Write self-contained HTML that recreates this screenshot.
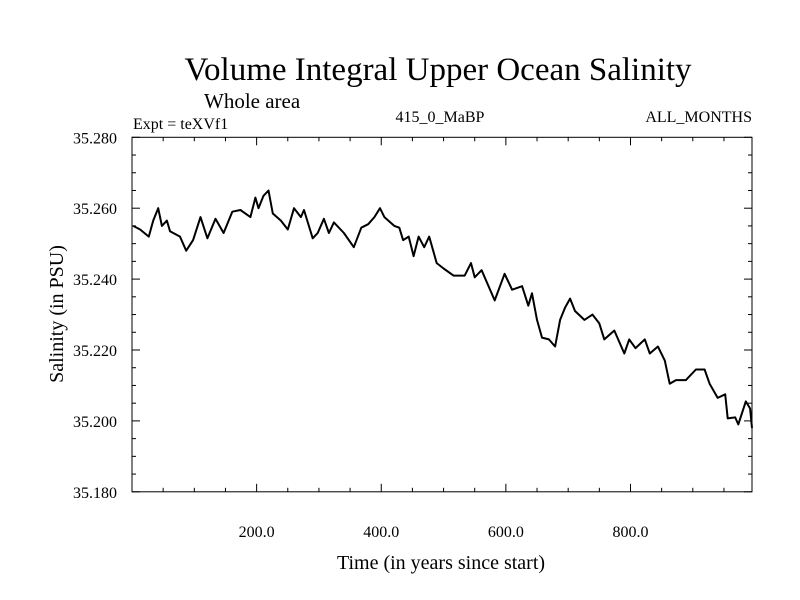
<!DOCTYPE html>
<html><head><meta charset="utf-8"><style>
html,body{margin:0;padding:0;background:#fff;}
svg{display:block;font-family:"Liberation Serif",serif;}
</style></head><body>
<svg id="chart" width="800" height="600" viewBox="0 0 800 600">
<text x="438" y="80" font-size="33" text-anchor="middle">Volume Integral Upper Ocean Salinity</text>
<text x="204" y="108" font-size="21">Whole area</text>
<text x="133" y="129" font-size="16">Expt = teXVf1</text>
<text x="440" y="122" font-size="16" text-anchor="middle">415_0_MaBP</text>
<text x="752" y="122" font-size="16" text-anchor="end">ALL_MONTHS</text>
<text x="441" y="569" font-size="20" text-anchor="middle">Time (in years since start)</text>
<text x="0" y="0" font-size="20" text-anchor="middle" transform="translate(63,314) rotate(-90)">Salinity (in PSU)</text>
<g id="axes"></g>
<path id="series" fill="none" stroke="#000" stroke-width="2" stroke-linejoin="round"></path>
</svg>
<script>
const years = [2,13,27,34,42,48,56,61,77,87,98,110,121,134,147,161,174,190,198,203,211,219,226,239,250,260,271,276,290,298,308,316,324,340,356,368,379,389,398,405,421,429,435,444,452,460,469,477,489,500,516,534,544,550,561,582,598,610,626,636,642,650,658,669,679,687,695,703,711,726,739,750,758,774,790,798,808,823,831,844,855,863,873,889,905,919,927,940,952,956,968,973,985,992,995];
const salinity = [35.255,35.254,35.252,35.2565,35.260,35.255,35.2565,35.2535,35.252,35.248,35.251,35.2575,35.2515,35.257,35.253,35.259,35.2595,35.2575,35.263,35.260,35.2635,35.265,35.2585,35.2565,35.254,35.260,35.2575,35.2595,35.2515,35.253,35.257,35.253,35.256,35.253,35.249,35.2545,35.2555,35.2575,35.260,35.2575,35.255,35.2545,35.251,35.252,35.2465,35.252,35.249,35.252,35.2445,35.243,35.241,35.241,35.2445,35.2405,35.2425,35.234,35.2415,35.237,35.238,35.2325,35.236,35.2285,35.2235,35.223,35.221,35.2285,35.232,35.2345,35.231,35.2285,35.230,35.2275,35.223,35.2255,35.219,35.223,35.2205,35.223,35.219,35.221,35.217,35.2105,35.2115,35.2115,35.2145,35.2145,35.2105,35.2065,35.2075,35.2007,35.201,35.199,35.2055,35.2035,35.198];
const yTicks = [35.180,35.200,35.220,35.240,35.260,35.280];
const yTickLabels = ["35.180","35.200","35.220","35.240","35.260","35.280"];
const xTicks = [200,400,600,800];
const xTickLabels = ["200.0","400.0","600.0","800.0"];

const X0=132,X1=752,Y0=137.3,Y1=491.8,XMIN=0,XMAX=995,YMIN=35.18,YMAX=35.28;
function sx(v){return X0+(v-XMIN)/(XMAX-XMIN)*(X1-X0);}
function sy(v){return Y1-(v-YMIN)/(YMAX-YMIN)*(Y1-Y0);}
const NS="http://www.w3.org/2000/svg";
const g=document.getElementById('axes');
function mk(tag,attrs,parent){const e=document.createElementNS(NS,tag);for(const k in attrs)e.setAttribute(k,attrs[k]);(parent||g).appendChild(e);return e;}
const frame=mk('rect',{x:X0,y:Y0,width:X1-X0,height:Y1-Y0,fill:'none',stroke:'#000','stroke-width':1});


for(let v=YMIN;v<=YMAX+1e-9;v+=0.005){
  const major=Math.abs(Math.round(v*1000)%20)<1e-6;
  const L=major?8:4,y=sy(v);
  const t1=mk('line',{x1:X0,y1:y,x2:X0+L,y2:y,stroke:'#000'});
  
  
  const t2=mk('line',{x1:X1,y1:y,x2:X1-L,y2:y,stroke:'#000'});
  
  
}
yTicks.forEach((v,i)=>{
  const t=mk('text',{x:117,y:sy(v)+6,'font-size':16,'text-anchor':'end'});
  t.textContent=yTickLabels[i];
  
  
});
for(let v=50;v<XMAX;v+=50){
  const major=v%200===0,L=major?8:4,x=sx(v);
  const t1=mk('line',{x1:x,y1:Y1,x2:x,y2:Y1-L,stroke:'#000'});
  
  
  const t2=mk('line',{x1:x,y1:Y0,x2:x,y2:Y0+L,stroke:'#000'});
  
  
}
xTicks.forEach((v,i)=>{
  const t=mk('text',{x:sx(v),y:537,'font-size':16,'text-anchor':'middle'});
  t.textContent=xTickLabels[i];
  
  
});
document.getElementById('series').setAttribute('d',years.map((yr,i)=>(i?'L':'M')+sx(yr).toFixed(1)+','+sy(salinity[i]).toFixed(1)).join(''));
</script>
</body></html>
